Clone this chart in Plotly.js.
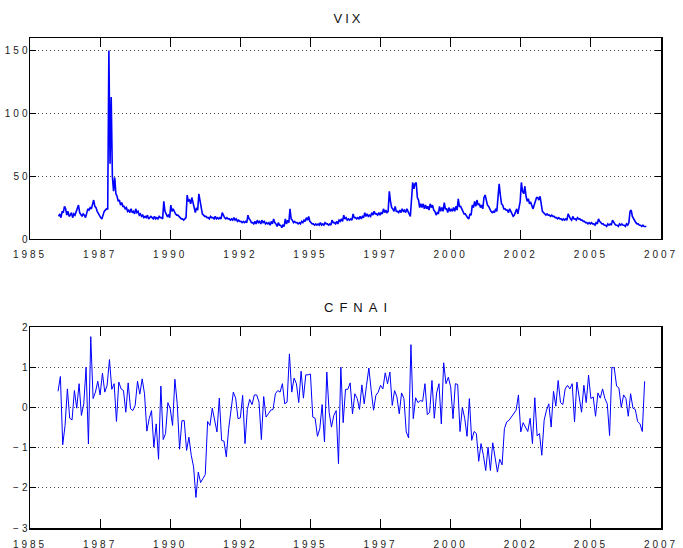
<!DOCTYPE html>
<html><head><meta charset="utf-8">
<script src="https://cdn.plot.ly/plotly-3.0.1.min.js"></script>
<style>
html,body{margin:0;padding:0;background:#fff;}
#chart{width:683px;height:548px;}
.xtick text, .x2tick text {letter-spacing:3px;}
.ytick text, .y2tick text {letter-spacing:3px;}
.annotation[data-index="0"] text {letter-spacing:3px;}
.annotation[data-index="1"] text {letter-spacing:6px;}
</style></head><body><div id="chart"></div>
<script>
// ---- tick labels (ticks every 2.5 years, labelled by year) ----
const xTickVals = [1985, 1987.5, 1990, 1992.5, 1995, 1997.5, 2000, 2002.5, 2005, 2007.5];
const xTickText = ['1985','1987','1990','1992','1995','1997','2000','2002','2005','2007'];
const vixTicks = [0, 50, 100, 150];
const cfnaiTicks = [-3, -2, -1, 0, 1, 2];

// ---- VIX: semi-monthly readings, Jan 1986 .. Dec 2006 (24 per year) ----
const vixStartYear = 1986;
const vix = [
 18,20, 17,22, 21,26, 24,19, 22,18, 19,21, 17,20, 19,22, 24,27, 21,19, 18,20, 19,17, // 1986
 22,24, 23,25, 24,27, 31,26, 25,22, 20,19, 17,16, 20,22, 23,24, 24,150, 60,113, 50,38, // 1987
 49,36, 34,30, 31,27, 29,26, 26,24, 25,22, 23,21, 24,21, 22,20, 24,21, 22,19, 20,18, // 1988
 19,17, 18,17, 19,16, 17,18, 17,16, 18,16, 17,16, 18,17, 17,16, 30,22, 20,18, 19,17, // 1989
 27,22, 24,21, 20,19, 19,18, 17,16, 16,15, 16,17, 35,30, 31,28, 33,29, 24,21, 25,23, // 1990
 36,30, 23,20, 19,18, 18,17, 17,16, 18,17, 17,16, 18,16, 17,16, 17,16, 21,18, 17,16, // 1991
 17,16, 16,15, 16,15, 17,15, 16,14, 15,14, 14,13, 14,13, 14,13, 19,16, 15,13, 13,12, // 1992
 14,12, 15,13, 14,12, 15,13, 14,12, 13,12, 13,11, 14,12, 16,13, 12,10, 13,11, 11,9,  // 1993
 11,10, 16,12, 15,13, 24,16, 15,13, 14,13, 13,12, 13,12, 14,13, 15,14, 17,15, 18,14, // 1994
 13,12, 12,11, 12,11, 12,11, 13,11, 12,11, 13,12, 12,11, 12,11, 15,13, 13,12, 14,12, // 1995
 15,14, 16,14, 19,16, 17,15, 16,15, 16,15, 20,17, 17,16, 17,16, 18,16, 18,17, 21,18, // 1996
 20,18, 19,18, 21,19, 22,20, 20,19, 21,19, 21,20, 24,21, 23,21, 22,38, 30,25, 24,22, // 1997
 26,22, 22,21, 23,21, 24,22, 23,21, 24,21, 20,18, 30,45, 40,44, 45,33, 31,25, 28,25, // 1998
 28,24, 27,24, 26,23, 28,25, 27,23, 22,19, 21,20, 26,22, 25,22, 29,24, 24,21, 25,22, // 1999
 24,22, 25,22, 26,23, 32,26, 26,24, 22,20, 20,18, 17,16, 20,19, 27,25, 30,26, 31,27, // 2000
 28,25, 27,24, 33,35, 31,27, 26,23, 22,21, 22,21, 24,22, 33,44, 35,28, 27,24, 24,23, // 2001
 23,21, 24,22, 20,18, 19,21, 24,20, 27,30, 45,38, 36,42, 34,30, 32,28, 29,26, 24,27, // 2002
 30,33, 33,31, 34,26, 22,21, 20,19, 20,19, 19,18, 19,18, 18,17, 17,16, 17,16, 16,15, // 2003
 16,15, 16,15, 20,17, 16,15, 18,16, 16,15, 17,16, 16,15, 15,14, 14,13, 13,12, 13,12, // 2004
 13,12, 12,11, 13,12, 16,14, 13,12, 12,11, 11,10, 12,11, 12,11, 15,13, 12,11, 11,10, // 2005
 12,11, 12,11, 11,10, 12,11, 13,22, 23,18, 16,14, 13,12, 12,11, 11,10, 11,10, 10,10  // 2006
];

// ---- CFNAI: monthly readings, Jan 1986 .. Dec 2006 ----
const cfnaiStartYear = 1986;
const cfnai = [
 0.40, 0.77,-0.93,-0.45, 0.46,-0.27,-0.31, 0.42,-0.02, 0.59,-0.20, 0.09, 1.00,-0.91, 1.76,
 0.22, 0.38, 0.65, 0.31, 0.85, 0.38, 0.55, 1.19, 0.45, 0.59,-0.35, 0.63, 0.46, 0.42,-0.12,
 0.61,-0.03,-0.08, 0.05, 0.65, 0.33, 0.71, 0.34,-0.59,-0.28,-0.08,-0.99,-0.41,-1.29, 0.53,
-0.80,-0.65, 0.12,-0.03,-0.45, 0.70, 0.09,-1.04,-0.33,-0.33,-1.07,-0.74,-1.19,-1.48,-2.24,
-1.61,-1.87,-1.77,-1.67,-0.35,-0.45,-0.02,-0.31,-0.61, 0.23,-0.82,-0.84,-1.23,-0.53,-0.12,
 0.38, 0.23,-0.28,-0.26, 0.30,-0.90,-0.05, 0.20, 0.07, 0.31, 0.31, 0.13,-0.80, 0.27,-0.24,
-0.16,-0.07,-0.05, 0.34, 0.42, 0.38, 0.59, 0.09, 0.13, 1.33, 0.38, 0.73, 0.59, 0.12, 0.90,
 0.23, 0.81, 0.81, 0.83,-0.24,-0.27,-0.72,-0.53, 0.07,-0.86, 0.88,-0.12,-0.49,-0.20,-0.08,
-1.40, 1.00,-0.38, 0.45, 0.45, 0.61,-0.16, 0.34, 0.22,-0.05, 0.56, 0.09, 0.55, 0.98, 0.42,
-0.07, 0.30, 0.38, 0.55, 0.46, 0.86, 0.59, 0.88, 0.05, 0.42, 0.26,-0.16, 0.36, 0.22,-0.61,
-0.76, 1.56,-0.28, 0.24, 0.12, 0.17, 0.15, 0.59,-0.18,-0.12, 0.67,-0.27, 0.36, 0.59,-0.41,
 1.11, 0.59, 0.75, 0.51,-0.28, 0.59, 0.57,-0.60, 0.00,-0.27,-0.72, 0.22,-0.82,-0.60,-0.65,
-1.34,-0.90,-1.19,-1.57,-0.99,-1.57,-0.88,-1.28,-1.61,-1.29,-1.43,-0.53,-0.36,-0.32,-0.24,
-0.13,-0.07, 0.31,-0.61,-0.38,-0.49,-0.60,-0.27,-0.90, 0.24,-0.71,-0.65,-1.19,-0.32,-0.07,
 0.09,-0.49, 0.40, 0.03, 0.67, 0.12, 0.07, 0.46, 0.55, 0.46, 0.59,-0.36, 0.63, 0.30,-0.12,
 0.55, 0.12, 0.80, 0.22, 0.26,-0.22, 0.36, 0.23, 0.46, 0.22, 0.09,-0.70, 1.00, 0.98, 0.53,
 0.48, 0.00, 0.31, 0.22,-0.22, 0.34,-0.02,-0.05,-0.35,-0.41,-0.60, 0.65
];

const vixX = vix.map((v, i) => vixStartYear + (i + 0.5) / 24);
const cfnaiX = cfnai.map((v, i) => cfnaiStartYear + i / 12);

const traces = [
  {x: vixX, y: vix, type: 'scatter', mode: 'lines', xaxis: 'x', yaxis: 'y',
   line: {color: '#0000ff', width: 1.6}, hoverinfo: 'skip'},
  {x: cfnaiX, y: cfnai, type: 'scatter', mode: 'lines', xaxis: 'x2', yaxis: 'y2',
   line: {color: '#0000ff', width: 1}, hoverinfo: 'skip'}
];

const axisCommon = {
  showline: true, linecolor: '#000', linewidth: 1.5, mirror: 'ticks',
  ticks: 'inside', tickcolor: '#000', tickwidth: 1, zeroline: false,
  tickfont: {family: 'Liberation Sans, Arial, sans-serif', size: 10, color: '#222'}
};
const xCommon = Object.assign({}, axisCommon, {
  range: [1985, 2007.5], tickvals: xTickVals, ticktext: xTickText,
  ticklen: 9, showgrid: false, ticklabelstandoff: 6
});
const yCommon = Object.assign({}, axisCommon, {
  ticklen: 6, showgrid: true, gridcolor: '#444', gridwidth: 1, griddash: '1px,3px',
  ticklabelstandoff: -4
});

const layout = {
  width: 683, height: 548,
  margin: {l: 30, r: 22, t: 38, b: 20},
  paper_bgcolor: '#fff', plot_bgcolor: '#fff', showlegend: false,
  font: {family: 'Liberation Sans, Arial, sans-serif', size: 10, color: '#222'},
  xaxis: Object.assign({}, xCommon, {anchor: 'y', domain: [0, 1]}),
  yaxis: Object.assign({}, yCommon, {anchor: 'x', domain: [0.5898, 1], range: [0, 160], tickvals: vixTicks}),
  xaxis2: Object.assign({}, xCommon, {anchor: 'y2', domain: [0, 1]}),
  yaxis2: Object.assign({}, yCommon, {anchor: 'x2', domain: [0, 0.4102], range: [-3, 2], tickvals: cfnaiTicks}),
  annotations: [
    {text: 'VIX', xref: 'paper', yref: 'paper', x: 0.505, y: 1.0408, showarrow: false,
     xanchor: 'center', yanchor: 'middle', font: {size: 13, color: '#111'}},
    {text: 'CFNAI', xref: 'paper', yref: 'paper', x: 0.52, y: 0.449, showarrow: false,
     xanchor: 'center', yanchor: 'middle', font: {size: 13, color: '#111'}}
  ]
};

Plotly.newPlot('chart', traces, layout, {displayModeBar: false, staticPlot: true});
</script>
</body></html>
